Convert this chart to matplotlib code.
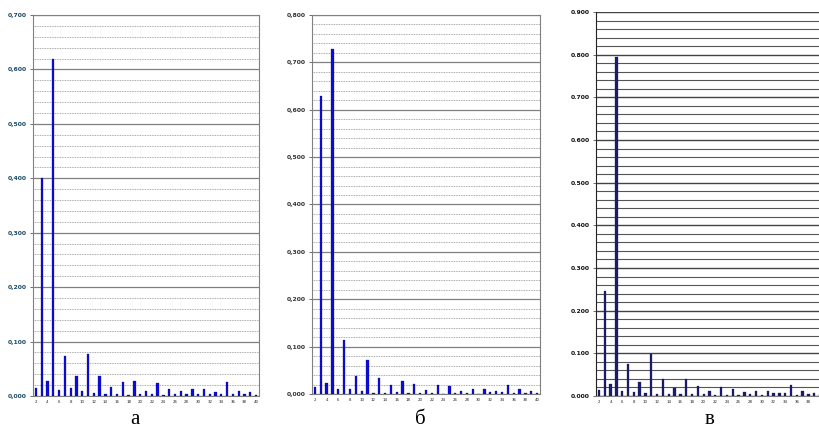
import numpy as np
import matplotlib.pyplot as plt
from matplotlib.ticker import MultipleLocator, FuncFormatter

harmonics = list(range(2, 41))

vals_a = [0.015, 0.400, 0.028, 0.620, 0.011, 0.074, 0.014, 0.037, 0.009, 0.078,
          0.006, 0.036, 0.003, 0.017, 0.004, 0.026, 0.002, 0.028, 0.003, 0.010,
          0.003, 0.024, 0.002, 0.013, 0.004, 0.009, 0.003, 0.013, 0.003, 0.013,
          0.004, 0.008, 0.004, 0.026, 0.003, 0.010, 0.003, 0.007, 0.002]

vals_b = [0.015, 0.630, 0.024, 0.728, 0.010, 0.113, 0.011, 0.038, 0.006, 0.072,
          0.003, 0.034, 0.003, 0.019, 0.004, 0.028, 0.003, 0.022, 0.003, 0.009,
          0.003, 0.019, 0.001, 0.016, 0.003, 0.007, 0.003, 0.011, 0.001, 0.011,
          0.004, 0.007, 0.004, 0.019, 0.003, 0.011, 0.003, 0.006, 0.003]

vals_c = [0.015, 0.245, 0.027, 0.795, 0.012, 0.074, 0.010, 0.033, 0.008, 0.099,
          0.005, 0.040, 0.005, 0.019, 0.004, 0.040, 0.004, 0.024, 0.004, 0.011,
          0.002, 0.020, 0.002, 0.017, 0.003, 0.009, 0.005, 0.012, 0.003, 0.012,
          0.006, 0.006, 0.006, 0.026, 0.003, 0.012, 0.005, 0.006, 0.004]

panels = [
    # values, ymax, rect, bar colour, label colour, decimal sep, solid minor grid, caption, caption x
    (vals_a, 0.7, [33, 396, 259, 15], "#0a0ae6", "#1d4b66", ",", False, "а", 135),
    (vals_b, 0.8, [312, 394, 540, 15], "#0a0ae6", "#333333", ",", False, "б", 420),
    (vals_c, 0.9, [596, 396, 823, 12], "#1c1c70", "#111111", ".", True, "в", 710),
]

W, H = 820, 434
fig = plt.figure(figsize=(W / 100, H / 100), dpi=100)

for vals, ymax, (x0, yb, x1, yt), bc, lc, sep, solid, cap, cx in panels:
    ax = fig.add_axes([x0 / W, (H - yb) / H, (x1 - x0) / W, (yb - yt) / H])
    ax.bar(harmonics, vals, width=0.4, color=bc, edgecolor="#101050",
           linewidth=0.2, zorder=3)
    ax.set_xlim(1.5, 40.5)
    ax.set_ylim(0, ymax)
    ax.yaxis.set_major_locator(MultipleLocator(0.1))
    ax.yaxis.set_minor_locator(MultipleLocator(0.02))
    ax.yaxis.set_major_formatter(
        FuncFormatter(lambda v, p, s=sep: f"{v:.3f}".replace(".", s)))
    # the last panel runs off the right edge, so its "40" label is not shown
    ax.set_xticks(harmonics[::2] if not solid else harmonics[:-1:2])
    ax.tick_params(axis="x", labelsize=2.8, length=0, pad=3, labelcolor="#222222")
    ax.tick_params(axis="y", which="major", labelsize=4.4, length=2.5, width=0.6,
                   labelcolor=lc, color="#555555", pad=2)
    ax.tick_params(axis="y", which="minor", length=0)
    for lab in ax.get_yticklabels():
        lab.set_fontweight("bold")
    if solid:
        ax.grid(axis="y", which="major", color="#444444", linewidth=1.0, zorder=0)
        ax.grid(axis="y", which="minor", color="#555555", linewidth=0.8, zorder=0)
    else:
        ax.grid(axis="y", which="major", color="#808080", linewidth=0.9, zorder=0)
        ax.grid(axis="y", which="minor", color="#909090", linewidth=0.6,
                linestyle=(0, (1, 1)), zorder=0)
    for sp in ax.spines.values():
        sp.set_color("#808080")
        sp.set_linewidth(0.8)
    if solid:
        ax.spines["left"].set_color("#222222")
        ax.spines["right"].set_visible(False)
        ax.spines["top"].set_visible(False)
    fig.text(cx / W, 1 - 420 / H, cap, ha="center", va="center",
             fontsize=15, family="Liberation Serif")

fig.savefig("out.png", dpi=100, facecolor="white")
